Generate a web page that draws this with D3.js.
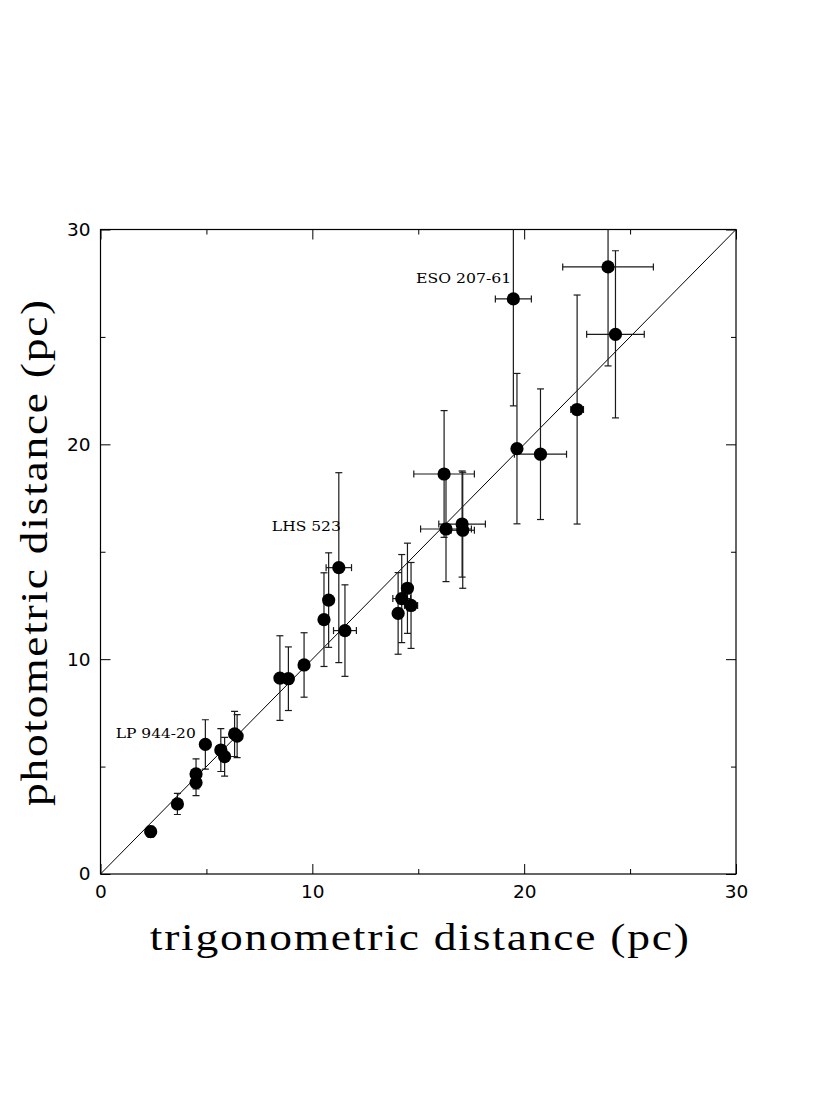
<!DOCTYPE html>
<html>
<head>
<meta charset="utf-8">
<script src="https://cdn.jsdelivr.net/npm/d3@7"></script>
<style>
html,body{margin:0;padding:0;background:#fff;}
svg{display:block;}
</style>
</head>
<body>
<svg id="chart" width="830" height="1106"></svg>
<script>
// trigonometric distance (pc)
const trigDist = [2.37,3.63,4.51,4.51,4.95,5.68,5.86,6.33,6.45,8.47,8.87,9.61,10.55,10.77,11.25,11.54,14.05,14.22,14.49,14.66,16.22,16.31,17.07,17.10,19.49,19.66,20.77,22.50,23.96,24.31];
// horizontal error (pc)
const trigErr  = [0,0,0,0,0,0,0,0,0,0,0,0,0,0,0.60,0.54,0,0.42,0,0.31,1.43,1.20,1.10,0.55,0.85,0,1.23,0.30,2.14,1.36];
// photometric distance (pc)
const photDist = [1.97,3.26,4.66,4.25,6.03,5.77,5.46,6.52,6.42,9.12,9.09,9.73,11.84,12.75,14.26,11.33,12.13,12.82,13.30,12.50,18.62,16.06,16.29,16.00,26.77,19.80,19.54,21.62,28.26,25.12];
// vertical error (pc)
const photErr  = [0.25,0.49,0.70,0.60,1.15,1.00,0.90,1.05,1.00,1.97,1.48,1.50,2.18,2.20,4.42,2.13,1.90,2.05,2.10,2.00,2.95,2.45,2.47,2.70,4.98,3.50,3.04,5.33,4.61,3.89];

const labelNames = ["LP 944-20","LHS 523","ESO 207-61"];
const labelX = [0.72,8.09,14.9];
const labelY = [6.35,15.95,27.5];

const majorTicks = [0,10,20,30];
const minorTicks = [5,15,25];
const xTitle = "trigonometric distance (pc)";
const yTitle = "photometric distance (pc)";

const svg = d3.select("#chart");
const L = 100.5, R = 736, T = 229.5, B = 874;
const x = d3.scaleLinear().domain([0,30]).range([L,R]);
const y = d3.scaleLinear().domain([0,30]).range([B,T]);

svg.append("defs").append("clipPath").attr("id","clip")
  .append("rect").attr("x",L).attr("y",T).attr("width",R-L).attr("height",B-T);

function styleAxis(g){
  g.select(".domain").remove();
  g.selectAll(".tick line").attr("stroke","#000").attr("stroke-width",1);
}
const labFont = "'DejaVu Sans', sans-serif";
function styleLabels(g){
  g.selectAll("text").style("font-family",labFont).style("font-size","18.5px").attr("fill","#000");
}
svg.append("g").attr("transform",`translate(0,${B})`)
  .call(d3.axisBottom(x).tickValues(majorTicks).tickSize(-10).tickPadding(11).tickFormat(d3.format("d")))
  .call(styleAxis).call(styleLabels);
svg.append("g").attr("transform",`translate(0,${B})`)
  .call(d3.axisBottom(x).tickValues(minorTicks).tickSize(-5).tickFormat(""))
  .call(styleAxis);
svg.append("g").attr("transform",`translate(0,${T})`)
  .call(d3.axisTop(x).tickValues(majorTicks).tickSize(-10).tickFormat(""))
  .call(styleAxis);
svg.append("g").attr("transform",`translate(0,${T})`)
  .call(d3.axisTop(x).tickValues(minorTicks).tickSize(-5).tickFormat(""))
  .call(styleAxis);
svg.append("g").attr("transform",`translate(${L},0)`)
  .call(d3.axisLeft(y).tickValues(majorTicks).tickSize(-10).tickPadding(10).tickFormat(d3.format("d")))
  .call(styleAxis).call(styleLabels);
svg.append("g").attr("transform",`translate(${L},0)`)
  .call(d3.axisLeft(y).tickValues(minorTicks).tickSize(-5).tickFormat(""))
  .call(styleAxis);
svg.append("g").attr("transform",`translate(${R},0)`)
  .call(d3.axisRight(y).tickValues(majorTicks).tickSize(-10).tickFormat(""))
  .call(styleAxis);
svg.append("g").attr("transform",`translate(${R},0)`)
  .call(d3.axisRight(y).tickValues(minorTicks).tickSize(-5).tickFormat(""))
  .call(styleAxis);

svg.append("rect").attr("x",L).attr("y",T).attr("width",R-L).attr("height",B-T)
  .attr("fill","none").attr("stroke","#000").attr("stroke-width",1.2);

const plot = svg.append("g").attr("clip-path","url(#clip)");

plot.append("line").attr("x1",x(0)).attr("y1",y(0)).attr("x2",x(30)).attr("y2",y(30))
  .attr("stroke","#000").attr("stroke-width",1);

const pts = trigDist.map((d,i)=>({x:d,xe:trigErr[i],y:photDist[i],ye:photErr[i]}));
const cap = 3.5;
const eb = plot.append("g").attr("stroke","#1a1a1a").attr("stroke-width",1.2).attr("fill","none");
pts.forEach(p=>{
  if(p.ye>0){
    eb.append("line").attr("x1",x(p.x)).attr("x2",x(p.x)).attr("y1",y(p.y-p.ye)).attr("y2",y(p.y+p.ye));
    eb.append("line").attr("x1",x(p.x)-cap).attr("x2",x(p.x)+cap).attr("y1",y(p.y-p.ye)).attr("y2",y(p.y-p.ye));
    eb.append("line").attr("x1",x(p.x)-cap).attr("x2",x(p.x)+cap).attr("y1",y(p.y+p.ye)).attr("y2",y(p.y+p.ye));
  }
  if(p.xe>0){
    eb.append("line").attr("y1",y(p.y)).attr("y2",y(p.y)).attr("x1",x(p.x-p.xe)).attr("x2",x(p.x+p.xe));
    eb.append("line").attr("y1",y(p.y)-cap).attr("y2",y(p.y)+cap).attr("x1",x(p.x-p.xe)).attr("x2",x(p.x-p.xe));
    eb.append("line").attr("y1",y(p.y)-cap).attr("y2",y(p.y)+cap).attr("x1",x(p.x+p.xe)).attr("x2",x(p.x+p.xe));
  }
});
plot.append("g").selectAll("circle").data(pts).join("circle")
  .attr("cx",d=>x(d.x)).attr("cy",d=>y(d.y)).attr("r",6.6).attr("fill","#000");

const labLens = [80,69,95];
svg.append("g").selectAll("text").data(labelNames).join("text")
  .attr("x",(d,i)=>x(labelX[i])).attr("y",(d,i)=>y(labelY[i]))
  .attr("font-family","'DejaVu Serif', serif").attr("font-size",12.5)
  .attr("textLength",(d,i)=>labLens[i]).attr("lengthAdjust","spacingAndGlyphs")
  .attr("fill","#000").text(d=>d);

svg.append("text").attr("x",(L+R)/2+2).attr("y",950)
  .attr("text-anchor","middle").attr("font-family","'Liberation Serif', serif").attr("font-size",38)
  .style("letter-spacing","1.5px")
  .attr("textLength",541).attr("lengthAdjust","spacingAndGlyphs").text(xTitle);
svg.append("text").attr("transform",`translate(47,${(298+806)/2}) rotate(-90)`)
  .attr("text-anchor","middle").attr("font-family","'Liberation Serif', serif").attr("font-size",38)
  .style("letter-spacing","1.5px")
  .attr("textLength",508).attr("lengthAdjust","spacingAndGlyphs").text(yTitle);
</script>
</body>
</html>
